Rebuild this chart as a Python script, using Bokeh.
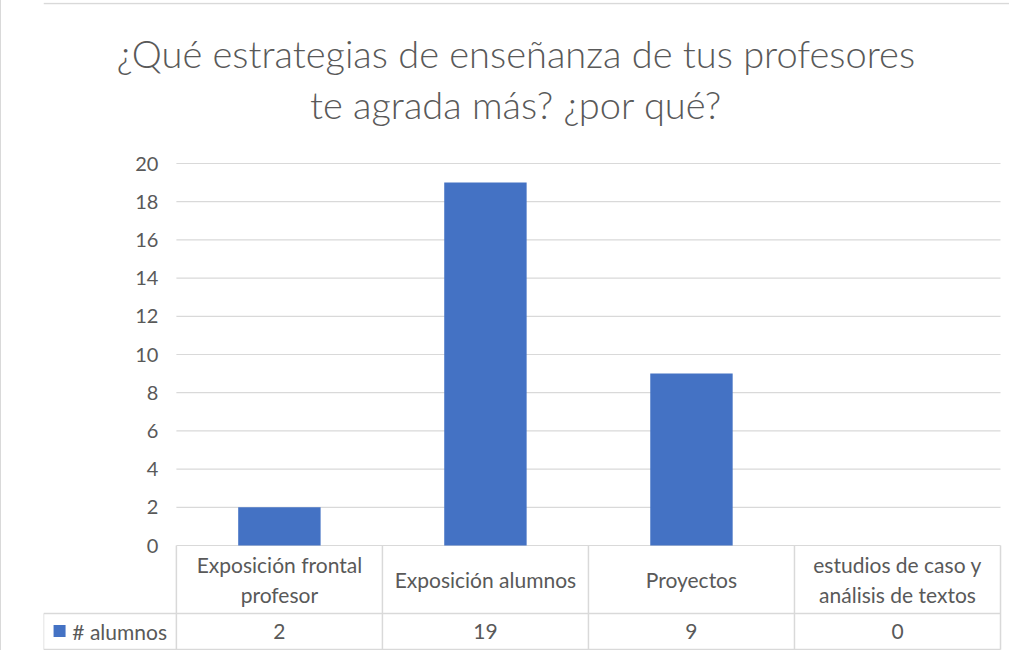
from bokeh.plotting import figure
from bokeh.models import Range1d, FixedTicker
from bokeh.core.properties import value
from bokeh.embed import file_html
from bokeh.resources import INLINE

# ---- data ----
categories = ["Exposición frontal\nprofesor", "Exposición alumnos", "Proyectos",
              "estudios de caso y\nanálisis de textos"]
alumnos = [2, 19, 9, 0]
series_name = "# alumnos"
y_ticks = [0, 2, 4, 6, 8, 10, 12, 14, 16, 18, 20]
title_lines = ["¿Qué estrategias de enseñanza de tus profesores", "te agrada más? ¿por qué?"]

# ---- style ----
BLUE = "#4472C4"
GRID = "#d9d9d9"
TXT = "#595959"
FONT = "Lato"
n = len(categories)
x_pos = [i + 0.5 for i in range(n)]

# layout in data units (1 unit in y = 19.1 px, 1 category = 206.25 px)
HDR_LEFT = -0.645
ROW_SEP = -3.56
TBL_BOTTOM = -5.45
HDR_MID = (0 + ROW_SEP) / 2
VAL_MID = (ROW_SEP + TBL_BOTTOM) / 2

p = figure(width=1009, height=650, output_backend="svg", toolbar_location=None,
           x_range=Range1d(HDR_LEFT, 4.0485), y_range=Range1d(-5.497, 28.43),
           x_axis_location=None, y_axis_location="left",
           min_border_left=42, min_border_right=0, min_border_top=2, min_border_bottom=0,
           background_fill_color="white", border_fill_color="white")
p.outline_line_color = None
p.xgrid.visible = False
p.ygrid.visible = False
p.styles = {"border-left": f"1px solid {GRID}"}

ax = p.yaxis[0]
ax.fixed_location = 0
ax.ticker = FixedTicker(ticks=y_ticks)
ax.axis_line_color = None
ax.major_tick_line_color = None
ax.minor_tick_line_color = None
ax.major_tick_out = 0
ax.major_tick_in = 0
ax.major_label_standoff = 18
ax.major_label_text_font = FONT
ax.major_label_text_font_size = "20px"
ax.major_label_text_color = TXT

# chart border (top)
p.segment(x0=[HDR_LEFT], x1=[4.0485], y0=[28.38], y1=[28.38], line_color=GRID, line_width=1.5)

# gridlines
p.segment(x0=[0] * len(y_ticks), x1=[n] * len(y_ticks), y0=y_ticks, y1=y_ticks,
          line_color=GRID, line_width=1.2)

# bars
p.vbar(x=x_pos, top=alumnos, width=0.4, bottom=0, fill_color=BLUE, line_color=None)

# data table lines
p.segment(x0=[HDR_LEFT, HDR_LEFT], x1=[n, n], y0=[ROW_SEP, TBL_BOTTOM], y1=[ROW_SEP, TBL_BOTTOM],
          line_color=GRID, line_width=1.5)
p.segment(x0=list(range(n + 1)), x1=list(range(n + 1)), y0=[0] * (n + 1), y1=[TBL_BOTTOM] * (n + 1),
          line_color=GRID, line_width=1.5)
p.segment(x0=[HDR_LEFT], x1=[HDR_LEFT], y0=[ROW_SEP], y1=[TBL_BOTTOM], line_color=GRID, line_width=1.5)

# category labels
lx, ly, lt = [], [], []
for i, c in enumerate(categories):
    parts = c.split("\n")
    k = len(parts)
    for j, part in enumerate(parts):
        lx.append(x_pos[i])
        ly.append(HDR_MID + (k - 1) * 0.785 - j * 1.57)
        lt.append(part)
p.text(x=lx, y=ly, text=lt, text_align="center", text_baseline="middle",
       text_font=value(FONT), text_font_size="21px", text_color=TXT)

# values row
p.text(x=x_pos, y=[VAL_MID] * n, text=[str(v) for v in alumnos], text_align="center",
       text_baseline="middle", text_font=value(FONT), text_font_size="21px", text_color=TXT)

# legend key in table
p.scatter(x=[HDR_LEFT + 0.078], y=[VAL_MID + 0.03], marker="square", size=12,
          fill_color=BLUE, line_color=None)
p.text(x=[HDR_LEFT + 0.14], y=[VAL_MID], text=[series_name], text_align="left",
       text_baseline="middle", text_font=value(FONT), text_font_size="21px", text_color=TXT)

# title
p.text(x=[1.648, 1.648], y=[25.8, 23.1], text=title_lines, text_align="center",
       text_baseline="middle", text_font=value("Lato Light"), text_font_size="38px",
       text_color=TXT)

open("out.html", "w").write(file_html(p, INLINE))
